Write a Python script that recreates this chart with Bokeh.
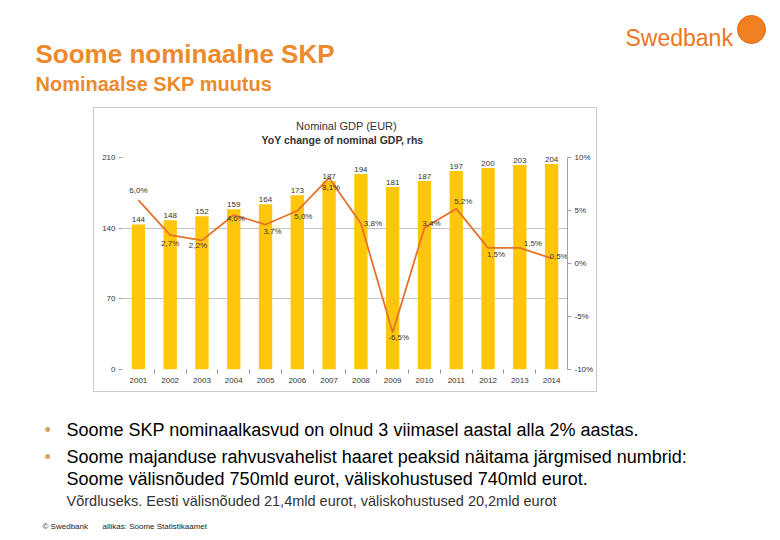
from bokeh.plotting import figure
from bokeh.layouts import column, row
from bokeh.models import ColumnDataSource, Range1d, LinearAxis, FixedTicker, Label, Spacer
from bokeh.core.properties import value
from bokeh.embed import file_html
from bokeh.resources import INLINE

# ---------------- data ----------------
years = [2001, 2002, 2003, 2004, 2005, 2006, 2007, 2008, 2009, 2010, 2011, 2012, 2013, 2014]
gdp_bn_eur = [144, 148, 152, 159, 164, 173, 187, 194, 181, 187, 197, 200, 203, 204]
yoy_growth_pct = [6.0, 2.7, 2.2, 4.6, 3.7, 5.0, 8.1, 3.8, -6.5, 3.4, 5.2, 1.5, 1.5, 0.5]
left_ticks = [0, 70, 140, 210]
right_ticks = [-10, -5, 0, 5, 10]
right_tick_labels = ["-10%", "-5%", "0%", "5%", "10%"]

title = "Soome nominaalne SKP"
subtitle = "Nominaalse SKP muutus"
chart_title_1 = "Nominal GDP (EUR)"
chart_title_2 = "YoY change of nominal GDP, rhs"
bullets = [
    "Soome SKP nominaalkasvud on olnud 3 viimasel aastal alla 2% aastas.",
    "Soome majanduse rahvusvahelist haaret peaksid näitama järgmised numbrid:",
]
bullet_cont = "Soome välisnõuded 750mld eurot, väliskohustused 740mld eurot."
note = "Võrdluseks. Eesti välisnõuded 21,4mld eurot, väliskohustused 20,2mld eurot"
footer_1 = "© Swedbank"
footer_2 = "allikas: Soome Statistikaamet"
logo_text = "Swedbank"

# label placement (pixel offsets) for the growth labels
lab_dx = [0, 0, -4, 2, 7, 6, 2, 12, 6, 7, 7, 8, 13, 7]
lab_dy = [-10, 8, 5, 3, 7, 6, 10, 0, 5, -4, -7, 7, -4, -2]

FONT = "Liberation Sans"
ORANGE = "#EC8A2C"
PW = 772              # page width
BOTTOM = 536          # page height


def page_fig(y0, y1):
    # a full-frame figure whose data coordinates are the window pixels
    f = figure(width=PW, height=y1 - y0, x_range=Range1d(0, PW), y_range=Range1d(y1, y0),
               output_backend="svg", toolbar_location=None,
               x_axis_location=None, y_axis_location=None,
               min_border=0, min_border_left=0, min_border_right=0,
               min_border_top=0, min_border_bottom=0,
               background_fill_color="white", border_fill_color="white",
               outline_line_color=None)
    f.xgrid.grid_line_color = None
    f.ygrid.grid_line_color = None
    return f


def lab(f, X, Y, text, size, color, bold=False, align="left", baseline="alphabetic"):
    f.add_layout(Label(x=X, y=Y, text=text, text_font=FONT, text_font_size=size,
                       text_color=color, text_font_style="bold" if bold else "normal",
                       text_align=align, text_baseline=baseline))


# ---------------- header (y 0..107) ----------------
head = page_fig(0, 107)
lab(head, 35, 53.5, title, "26px", ORANGE, bold=True)
lab(head, 35, 83.5, subtitle, "20px", ORANGE, bold=True)
lab(head, 625, 37, logo_text, "23px", "#EE7623")
head.scatter(x=[751], y=[29], size=28, marker="circle", fill_color="#F07F1E", line_color="#E5661A")

# ---------------- chart (x 93..597, y 107..392) ----------------
src = ColumnDataSource(dict(
    year=years,
    gdp=gdp_bn_eur,
    growth=yoy_growth_pct,
    gdp_lbl=[str(v) for v in gdp_bn_eur],
    g_lbl=[("%.1f%%" % v).replace(".", ",") for v in yoy_growth_pct],
    dx=lab_dx,
    dy=lab_dy,
))

FH = 257
p = figure(frame_width=443, frame_height=FH,
           x_range=Range1d(2000.5, 2014.5), y_range=Range1d(0, FH),
           output_backend="svg", toolbar_location=None,
           min_border_left=28, min_border_right=31,
           min_border_top=2, min_border_bottom=24,
           background_fill_color="white", border_fill_color="white",
           outline_line_color=None,
           styles={"border": "1px solid #C8C8C8"})
p.extra_y_ranges = {"pct": Range1d(-10, -10 + FH / 10.5)}

ya = p.yaxis[0]
ya.ticker = FixedTicker(ticks=left_ticks)
ya.axis_line_color = None
ya.major_tick_out = 4
ya.major_tick_in = 0
ya.major_tick_line_color = "#A0A0A0"
ya.minor_tick_line_color = None
ya.major_label_text_font = FONT
ya.major_label_text_font_size = "8px"
ya.major_label_text_color = "#333333"
ya.major_label_standoff = 3

xa = p.xaxis[0]
xa.ticker = FixedTicker(ticks=years, minor_ticks=[y + 0.5 for y in years[:-1]])
xa.axis_line_color = None
xa.major_tick_line_color = None
xa.major_tick_out = 0
xa.major_tick_in = 0
xa.minor_tick_out = 4
xa.minor_tick_in = 0
xa.minor_tick_line_color = "#909090"
xa.major_label_text_font = FONT
xa.major_label_text_font_size = "8px"
xa.major_label_text_color = "#333333"
xa.major_label_standoff = 4

ra = LinearAxis(y_range_name="pct", ticker=FixedTicker(ticks=right_ticks), bounds=(-10, 10),
                major_label_overrides=dict(zip(right_ticks, right_tick_labels)))
ra.axis_line_color = "#A0A0A0"
ra.major_tick_out = 4
ra.major_tick_in = 0
ra.major_tick_line_color = "#A0A0A0"
ra.minor_tick_line_color = None
ra.major_label_text_font = FONT
ra.major_label_text_font_size = "8px"
ra.major_label_text_color = "#333333"
ra.major_label_standoff = 3
p.add_layout(ra, "right")

p.xgrid.grid_line_color = None
p.ygrid.ticker = FixedTicker(ticks=[70, 140])
p.ygrid.grid_line_color = "#C4C4C4"
p.ygrid.grid_line_width = 1

p.vbar(x="year", top="gdp", width=0.42, source=src, fill_color="#FFC60B", line_color=None)
p.line(x="year", y="growth", source=src, y_range_name="pct", line_color="#E5722B", line_width=1.8)

p.text(x="year", y="gdp", text="gdp_lbl", source=src, text_align="center", text_baseline="bottom",
       y_offset=-2, text_font=value(FONT), text_font_size="8px", text_color="#333333")
p.text(x="year", y="growth", text="g_lbl", source=src, y_range_name="pct",
       x_offset="dx", y_offset="dy", text_align="center", text_baseline="middle",
       text_font=value(FONT), text_font_size="8px", text_color="#333333")

# chart titles (frame-relative screen units; frame left = 122, frame bottom = 367 in page px)
for X, Y, t, bold, fs in [(346, 123, chart_title_1, False, "11px"), (342, 137, chart_title_2, True, "10.5px")]:
    p.add_layout(Label(x=X - 122, y=367 - Y, x_units="screen", y_units="screen", text=t,
                       text_font=FONT, text_font_size=fs, text_color="#333333",
                       text_font_style="bold" if bold else "normal",
                       text_align="center", text_baseline="middle"))

# ---------------- footer (y 392..536) ----------------
foot = page_fig(392, BOTTOM)
lab(foot, 44, 429, "•", "18px", "#D9A258")
lab(foot, 66, 429, bullets[0], "18px", "#000000")
lab(foot, 44, 456, "•", "18px", "#D9A258")
lab(foot, 66, 456, bullets[1], "18px", "#000000")
lab(foot, 66, 478, bullet_cont, "18px", "#000000")
lab(foot, 66, 500, note, "14.5px", "#333333")
lab(foot, 42, 526, footer_1, "8px", "#222222")
lab(foot, 102, 526, footer_2, "8px", "#222222")

layout = column(head,
                row(Spacer(width=93, height=285), p, Spacer(width=PW - 93 - 504, height=285),
                    spacing=0),
                foot, spacing=0)

open("out.html", "w").write(file_html(layout, INLINE))
